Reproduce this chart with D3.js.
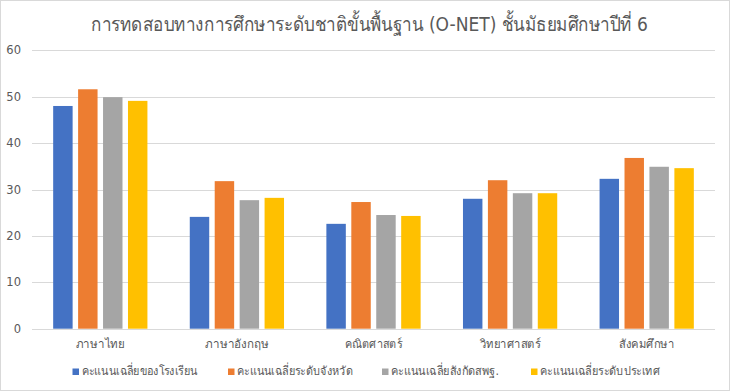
<!DOCTYPE html>
<html><head><meta charset="utf-8">
<script src="https://cdn.jsdelivr.net/npm/d3@7"></script>
<style>
html,body{margin:0;padding:0;background:#fff;}
svg{display:block;font-family:"Segoe UI","DejaVu Sans","Noto Sans",sans-serif;}
</style></head>
<body>
<svg id="chart" width="730" height="391"></svg>
<script>
const categories = ["ภาษาไทย","ภาษาอังกฤษ","คณิตศาสตร์","วิทยาศาสตร์","สังคมศึกษา"];
const seriesNames = ["คะแนนเฉลี่ยของโรงเรียน","คะแนนเฉลี่ยระดับจังหวัด","คะแนนเฉลี่ยสังกัดสพฐ.","คะแนนเฉลี่ยระดับประเทศ"];
const school   = [48.0, 24.1, 22.6, 28.0, 32.3];
const province = [51.6, 31.8, 27.3, 32.0, 36.8];
const obec     = [49.9, 27.7, 24.5, 29.2, 34.9];
const national = [49.1, 28.2, 24.3, 29.2, 34.6];
const yTicks = [0,10,20,30,40,50,60];
const colors = ["#4472c4","#ed7d31","#a5a5a5","#ffc000"];
const title = "การทดสอบทางการศึกษาระดับชาติขั้นพื้นฐาน (O-NET) ชั้นมัธยมศึกษาปีที่ 6";

(function(){
const series = [school, province, obec, national];
const svg = d3.select("#chart");
const W = 730, H = 391;
svg.append("rect").attr("x",0.5).attr("y",0.5).attr("width",W-1).attr("height",H-1)
  .attr("fill","#fff").attr("stroke","#d9d9d9");

function fit(sel, w) {
  sel.each(function(d, i) {
    const tw = typeof w === "function" ? w(d, i) : w;
    if (this.getComputedTextLength() > 0)
      d3.select(this).attr("textLength", tw).attr("lengthAdjust", "spacingAndGlyphs");
  });
}

const mLeft = 32, mRight = 715, mTop = 50.3, mBottom = 328.7;
const y = d3.scaleLinear().domain([0,60]).range([mBottom, mTop]);
const x0 = d3.scaleBand().domain(categories).range([mLeft, mRight]).paddingInner(0.31).paddingOuter(0.155);
const x1 = d3.scaleBand().domain(d3.range(4)).range([0, x0.bandwidth()]).paddingInner(0.22);

svg.append("g").selectAll("line").data(yTicks).join("line")
  .attr("x1", mLeft).attr("x2", mRight)
  .attr("y1", d => Math.round(y(d))+0.5).attr("y2", d => Math.round(y(d))+0.5)
  .attr("stroke","#d9d9d9").attr("stroke-width",1);

svg.append("g").selectAll("text").data(yTicks).join("text")
  .attr("x", 21).attr("y", d => y(d)).attr("dy","0.35em")
  .attr("text-anchor","end").attr("font-size",11.5).attr("fill","#595959")
  .text(d => d);

const g = svg.append("g");
categories.forEach((c, ci) => {
  series.forEach((s, si) => {
    g.append("rect")
      .attr("x", x0(c) + x1(si))
      .attr("width", x1.bandwidth())
      .attr("y", y(s[ci]))
      .attr("height", y(0) - y(s[ci]))
      .attr("fill", colors[si]);
  });
});

const catW = [49, 63, 57, 61, 55];
const cl = svg.append("g").selectAll("text").data(categories).join("text")
  .attr("x", d => x0(d) + x0.bandwidth()/2).attr("y", 348)
  .attr("text-anchor","middle").attr("font-size",12).attr("fill","#595959")
  .text(d => d);
fit(cl, (d, i) => catW[i]);

const tt = svg.append("text").attr("x", 369.5).attr("y", 30.5).attr("text-anchor","middle")
  .attr("font-size",19.5).attr("fill","#595959").text(title);
fit(tt, 557);

const legX = [72.5, 228, 382, 531];
const legW = [116, 116, 108, 120];
const leg = svg.append("g");
seriesNames.forEach((n, i) => {
  leg.append("rect").attr("x", legX[i]).attr("y", 368.5).attr("width",6.5).attr("height",6.5).attr("fill",colors[i]);
  const t = leg.append("text").attr("x", legX[i]+9).attr("y", 375).attr("font-size",12).attr("fill","#595959").text(n);
  fit(t, legW[i]);
});
})();
</script>
</body></html>
